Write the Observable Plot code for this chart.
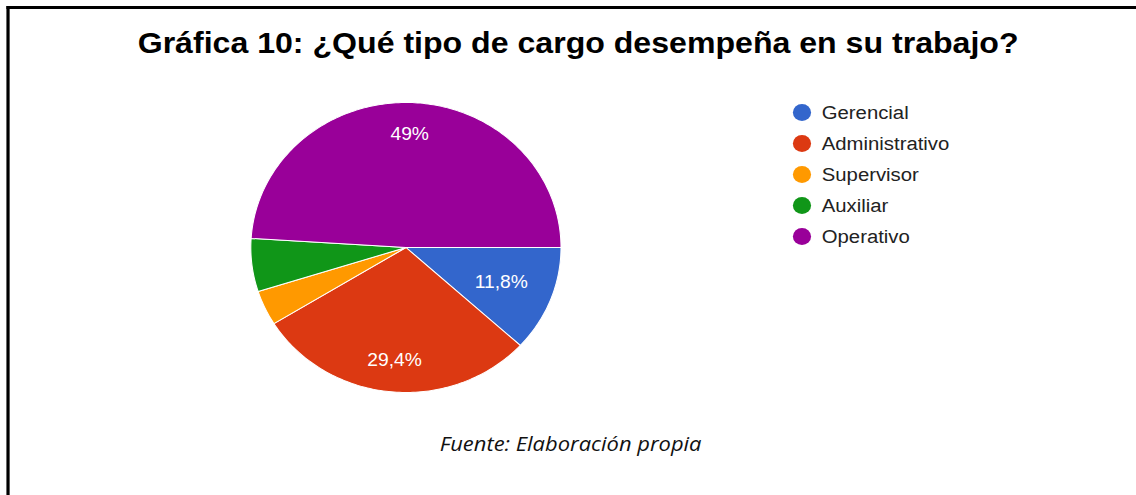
<!DOCTYPE html>
<html>
<head>
<meta charset="utf-8">
<script src="https://cdn.jsdelivr.net/npm/d3@7"></script>
<script src="https://cdn.jsdelivr.net/npm/@observablehq/plot@0.6"></script>
<style>
  html, body { margin: 0; padding: 0; background: #fff; overflow: hidden; }
  #page { position: absolute; left: 0; top: 0; width: 1062px; height: 495px;
          transform-origin: 0 0; transform: scaleX(1.0696); }
  #frame { position: absolute; left: 6px; top: 6px; width: 1200px; height: 600px;
           border-left: 3px solid #000; border-top: 3px solid #000; }
  #title { position: absolute; left: 0; width: 1081px; top: 28px; text-align: center;
           font-family: Arial, "Liberation Sans", sans-serif; font-weight: bold;
           font-size: 30px; line-height: 30px; color: #000; white-space: nowrap; }
  #caption { position: absolute; left: 0; width: 1067px; top: 433px; text-align: center;
             font-family: "Open Sans", sans-serif; font-style: italic;
             font-size: 20.5px; line-height: 20.5px; color: #111; white-space: nowrap; }
  #pie { position: absolute; left: 223.5px; top: 92px; }
  #legend { position: absolute; left: 735px; top: 95px; }
</style>
</head>
<body>
<div id="page">
  <div id="frame"></div>
  <div id="title">Gráfica 10: ¿Qué tipo de cargo desempeña en su trabajo?</div>
  <div id="pie"></div>
  <div id="legend"></div>
  <div id="caption">Fuente: Elaboración propia</div>
</div>
<script>
const categories = ["Gerencial", "Administrativo", "Supervisor", "Auxiliar", "Operativo"];
const percents = [11.8, 29.4, 3.9, 5.9, 49.0];
const colors = ["#3366cc", "#dc3912", "#ff9900", "#109618", "#990099"];

const font = 'Arial, "Liberation Sans", sans-serif';

// pie geometry from the data (angles clockwise from 12 o'clock, starting at 3 o'clock)
const arcs = d3.pie().sort(null)
  .startAngle(Math.PI / 2).endAngle(Math.PI / 2 + 2 * Math.PI)(percents);

const polyPoints = [];
arcs.forEach((a, i) => {
  const cat = categories[i];
  polyPoints.push({cat, x: 0, y: 0});
  const n = Math.max(2, Math.ceil((a.endAngle - a.startAngle) / (Math.PI / 180)));
  for (let k = 0; k <= n; k++) {
    const t = a.startAngle + (a.endAngle - a.startAngle) * k / n;
    polyPoints.push({cat, x: Math.sin(t), y: Math.cos(t)});
  }
});

const fmt = v => (Math.round(v * 10) / 10).toString().replace(".", ",") + "%";
const labels = arcs
  .map((a, i) => {
    const mid = (a.startAngle + a.endAngle) / 2;
    const r = percents[i] < 20 ? 0.66 : 0.78;
    return {cat: categories[i], v: percents[i], x: r * Math.sin(mid), y: r * Math.cos(mid)};
  })
  .filter(d => d.v >= 10);

const pie = Plot.plot({
  width: 310, height: 310,
  margin: 10,
  x: {domain: [-1, 1], axis: null},
  y: {domain: [-1, 1], axis: null},
  color: {domain: categories, range: colors},
  marks: [
    Plot.line(polyPoints, {x: "x", y: "y", z: "cat", fill: "cat", stroke: "#fff",
      strokeWidth: 1, curve: "linear-closed"}),
    Plot.text(labels, {x: "x", y: "y", text: d => fmt(d.v), fill: "#fff",
      fontSize: 18, fontFamily: font})
  ]
});
document.getElementById("pie").appendChild(pie);

const legend = Plot.plot({
  width: 200, height: 160,
  margin: 0,
  y: {type: "point", domain: categories, range: [16, 141], padding: 0, axis: null},
  color: {domain: categories, range: colors},
  marks: [
    Plot.dot(categories, {y: d => d, fill: d => d, r: 8.5, frameAnchor: "left", dx: 14.3}),
    Plot.text(categories, {y: d => d, text: d => d, frameAnchor: "left", dx: 32.8,
      textAnchor: "start", fill: "#222", fontSize: 19, fontFamily: font})
  ]
});
document.getElementById("legend").appendChild(legend);
</script>
</body>
</html>
